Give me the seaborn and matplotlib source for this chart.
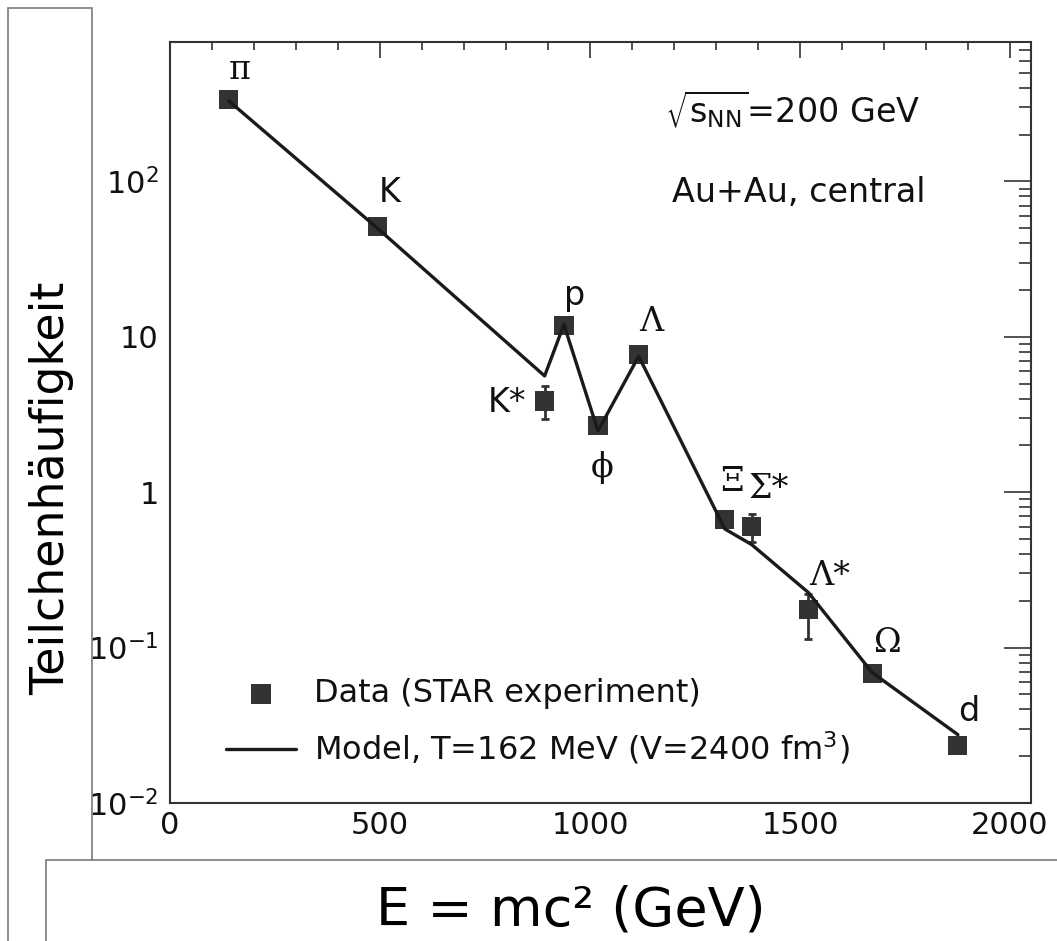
import numpy as np
import pandas as pd
import matplotlib
matplotlib.use("Agg")
import matplotlib.pyplot as plt
from matplotlib.patches import Rectangle
from matplotlib.ticker import FixedLocator, MultipleLocator, LogLocator, FuncFormatter, NullFormatter
import seaborn as sns

# particle masses (MeV) and yields
particles = ["π", "K", "K*", "p", "ϕ", "Λ", "Ξ", "Σ*", "Λ*", "Ω", "d"]
mass = [140, 494, 892, 938, 1019, 1116, 1321, 1385, 1520, 1672, 1876]
data_yield = [338, 51, 3.86, 11.9, 2.67, 7.65, 0.67, 0.60, 0.176, 0.068, 0.0233]
err_low = [0, 0, 0.90, 0, 0, 0, 0, 0.124, 0.063, 0, 0.0018]
err_high = [0, 0, 0.97, 0, 0, 0, 0, 0.12, 0.044, 0, 0.0012]
model_yield = [330, 50, 5.6, 12.0, 2.48, 7.5, 0.58, 0.46, 0.226, 0.069, 0.0275]

serif_labels = {"π", "ϕ", "Λ", "Ξ", "Σ*", "Λ*", "Ω"}
# label offsets in points from the data square
label_dx = [8, 9, -27, 8, 3, 9, 5, 12, 15, 11, 8]
label_dy = [21, 25, -1, 21, -30, 24, 27, 27, 24, 22, 25]

df = pd.DataFrame({"mass": mass, "data": data_yield, "model": model_yield})

sns.set_style("white")
plt.rcParams["font.family"] = ["DejaVu Sans"]
plt.rcParams["mathtext.fontset"] = "dejavusans"

fig = plt.figure(figsize=(10.57, 9.41), dpi=100)
ax = fig.add_axes([0.1608, 0.1467, 0.8146, 0.8087])

dark = "#333333"
sns.scatterplot(data=df, x="mass", y="data", marker="s", s=190, color=dark,
                edgecolor="none", ax=ax, zorder=3, label="Data (STAR experiment)")
ax.errorbar(mass, data_yield, yerr=[err_low, err_high], fmt="none", ecolor=dark,
            elinewidth=2.0, capsize=3, capthick=2.0, zorder=2)
sns.lineplot(data=df, x="mass", y="model", color="#1a1a1a", linewidth=2.4, sort=False,
             ax=ax, zorder=4, label="Model, T=162 MeV (V=2400 fm$^3$)")

for name, x, y, dx, dy in zip(particles, mass, data_yield, label_dx, label_dy):
    fam = ["DejaVu Serif"] if name in serif_labels else ["DejaVu Sans"]
    ax.annotate(name, (x, y), xytext=(dx, dy), textcoords="offset points",
                ha="center", va="center", fontsize=24, family=fam, color="#111111")

ax.set_yscale("log")
ax.set_xlim(0, 2050)
ax.set_ylim(0.01, 790)

ax.xaxis.set_major_locator(FixedLocator([0, 500, 1000, 1500, 2000]))
ax.xaxis.set_minor_locator(MultipleLocator(100))
ax.yaxis.set_major_locator(LogLocator(base=10, numticks=10))
ax.yaxis.set_minor_locator(LogLocator(base=10, subs=np.arange(2, 10), numticks=20))
ax.yaxis.set_minor_formatter(NullFormatter())

ytick_text = {-2: "$10^{-2}$", -1: "$10^{-1}$", 0: "1", 1: "10", 2: "$10^{2}$"}
ax.yaxis.set_major_formatter(FuncFormatter(lambda v, p: ytick_text.get(int(round(np.log10(v))), "")))

ax.tick_params(axis="both", which="both", direction="in", top=True, right=True,
               colors=dark, labelcolor="#111111", width=1.2)
ax.tick_params(axis="x", which="major", length=11.5, labelsize=22, pad=6)
ax.tick_params(axis="x", which="minor", length=5.8)
ax.tick_params(axis="y", which="major", length=19.5, labelsize=22, pad=8)
ax.tick_params(axis="y", which="minor", length=8.6)
for sp in ax.spines.values():
    sp.set_color(dark)
    sp.set_linewidth(1.5)

ax.set_xlabel("")
ax.set_ylabel("")

ax.text(0.575, 0.8936, r"$\sqrt{\mathrm{s}_{\mathrm{NN}}}$=200 GeV", transform=ax.transAxes,
        fontsize=24, ha="left", va="baseline", color="#111111")
ax.text(0.583, 0.790, "Au+Au, central", transform=ax.transAxes,
        fontsize=24, ha="left", va="baseline", color="#111111")

leg = ax.legend(loc="lower left", bbox_to_anchor=(0.039, 0.018), frameon=False, fontsize=23,
                handlelength=2.2, handletextpad=0.55, labelspacing=0.65, borderpad=0.2)
for t in leg.get_texts():
    t.set_color("#111111")

# boxed axis titles on top of the figure
fig.patches.append(Rectangle((8 / 1057, -0.02), 84 / 1057, 1.02 - 8 / 941,
                             transform=fig.transFigure, fill=False, edgecolor="#7a7a7a",
                             linewidth=1.2, zorder=5))
fig.patches.append(Rectangle((46 / 1057, -0.02), 1.0, 0.02 + 1 - 860 / 941,
                             transform=fig.transFigure, facecolor="white", edgecolor="#7a7a7a",
                             linewidth=1.2, zorder=6))
fig.text(52 / 1057, 1 - 488 / 941, "Teilchenhäufigkeit", rotation=90, ha="center", va="center",
         fontsize=33, color="black")
fig.text(571 / 1057, 1 - 925 / 941, "E = mc² (GeV)", ha="center", va="baseline",
         fontsize=39, color="black", zorder=7)

fig.savefig("out.png", dpi=100)
